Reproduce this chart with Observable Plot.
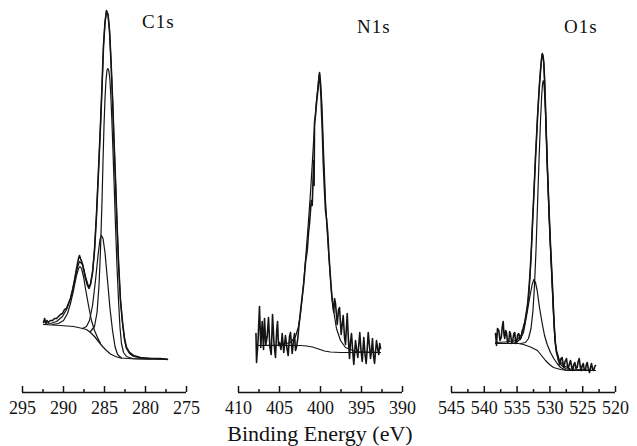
<!DOCTYPE html>
<html>
<head>
<meta charset="utf-8">
<script src="https://cdn.jsdelivr.net/npm/d3@7"></script>
<script src="https://cdn.jsdelivr.net/npm/@observablehq/plot@0.6"></script>
<style>
  html, body { margin: 0; padding: 0; background: #fff; }
  #wrap { position: relative; width: 637px; height: 446px; background: #fff; overflow: hidden;
          font-family: "Liberation Serif", "Times New Roman", serif; color: #111; }
  .panel { position: absolute; top: 0; }
  .lbl { position: absolute; line-height: 1; font-size: 19px; letter-spacing: 1px; white-space: nowrap; }
  #xlabel { position: absolute; top: 423px; left: 200px; width: 240px; text-align: center;
            font-size: 22px; line-height: 1; white-space: nowrap; }
</style>
</head>
<body>
<div id="wrap">
  <div id="p1" class="panel" style="left:0px"></div>
  <div id="p2" class="panel" style="left:212px"></div>
  <div id="p3" class="panel" style="left:424px"></div>
  <div class="lbl" style="left:142px;top:12px">C1s</div>
  <div class="lbl" style="left:357px;top:17px">N1s</div>
  <div class="lbl" style="left:564px;top:17px">O1s</div>
  <div id="xlabel">Binding Energy (eV)</div>
</div>
<script>
// ---------- axis tick values ----------
const c1sMajor = [295, 290, 285, 280, 275];
const c1sMinor = [292.5, 287.5, 282.5, 277.5];
const n1sMajor = [410, 405, 400, 395, 390];
const n1sMinor = [407.5, 402.5, 397.5, 392.5];
const o1sMajor = [545, 540, 535, 530, 525, 520];
const o1sMinor = [542.5, 537.5, 532.5, 527.5, 522.5];

// ---------- C1s: [binding energy (eV), intensity (a.u.)] ----------
const c1sRaw = [[292.44,70],[292.30,74],[292.16,69],[292.02,72],[291.85,70],[291.60,72],[291.34,72],[291.10,74],[290.85,74],[290.61,76],[290.37,78],[290.12,79],[289.88,83],[289.63,84],[289.39,89],[289.15,94],[288.90,102],[288.66,112],[288.41,124],[288.17,134],[288.05,137],[287.93,134],[287.74,130],[287.56,124],[287.32,114],[287.07,107],[286.89,104],[286.71,108],[286.46,120],[286.22,142],[285.98,177],[285.73,222],[285.49,267],[285.30,307],[285.12,347],[284.94,370],[284.76,382],[284.57,378],[284.39,362],[284.21,332],[284.02,294],[283.84,252],[283.66,212],[283.48,170],[283.29,130],[283.05,92],[282.80,70],[282.56,54],[282.32,45],[281.95,40],[281.46,37],[280.61,35],[279.39,34],[278.17,34],[277.32,33]];
const c1sFit = [[292.44,68],[291.59,69],[290.85,71],[290.12,76],[289.63,83],[289.15,94],[288.78,107],[288.41,122],[288.05,131],[287.68,128],[287.32,116],[286.95,106],[286.71,108],[286.46,120],[286.22,142],[285.98,177],[285.73,222],[285.49,267],[285.30,307],[285.12,347],[284.94,370],[284.76,381],[284.57,378],[284.39,362],[284.21,332],[284.02,294],[283.84,252],[283.66,212],[283.48,170],[283.29,130],[283.05,92],[282.80,69],[282.56,53],[282.32,44],[281.95,39],[281.46,36],[280.61,34.5],[277.32,33.5]];
const c1sBg = [[292.44,68],[290.37,67],[288.78,66],[287.93,64.5],[287.20,63],[286.71,60],[286.22,56],[285.73,51],[285.24,46],[284.76,42],[284.27,38.5],[283.66,36],[283.05,34.5],[281.22,33.5],[277.32,33]];
const c1sPeakCC = [[286.71,61],[286.22,66],[285.91,80],[285.67,107],[285.49,142],[285.30,192],[285.18,232],[285.06,267],[284.94,294],[284.82,312],[284.70,322],[284.60,324],[284.48,322],[284.35,314],[284.23,297],[284.11,274],[283.99,247],[283.84,212],[283.66,167],[283.48,127],[283.29,92],[283.11,65],[282.93,49],[282.68,40],[282.32,36],[281.59,34],[279.39,33.5]];
const c1sPeakCN = [[287.68,64],[287.20,66],[286.83,72],[286.46,87],[286.10,112],[285.79,137],[285.55,153],[285.37,157],[285.18,154],[284.94,140],[284.63,112],[284.33,84],[284.02,62],[283.72,46],[283.41,38],[282.93,34.5]];
const c1sPeakCO = [[291.34,68],[290.61,69],[290.00,72],[289.51,79],[289.15,89],[288.78,102],[288.41,117],[288.17,124],[287.99,126],[287.80,124],[287.56,116],[287.32,104],[286.95,87],[286.59,72],[286.22,62],[285.85,55],[285.49,49]];

// ---------- N1s ----------
const n1sRaw = [[407.87,59],[407.80,30],[407.62,51],[407.44,86],[407.28,45],[407.11,71],[406.95,43],[406.83,74],[406.67,48],[406.50,56],[406.34,75],[406.18,46],[406.01,38],[405.85,78],[405.67,49],[405.49,35],[405.34,62],[405.24,71],[405.12,47],[405.00,50],[404.82,43],[404.67,59],[404.48,40],[404.27,57],[404.11,45],[403.94,37],[403.78,56],[403.66,60],[403.45,39],[403.29,52],[403.17,59],[403.05,42],[402.93,45],[402.77,54],[402.65,65],[402.44,81],[402.26,94],[402.04,109],[401.83,130],[401.62,142],[401.46,160],[401.34,169],[401.13,192],[401.01,187],[400.91,212],[400.82,232],[400.78,207],[400.73,270],[400.61,277],[400.49,289],[400.37,298],[400.28,305],[400.18,316],[400.12,320],[400.06,314],[400.00,305],[399.94,296],[399.88,282],[399.76,257],[399.67,232],[399.54,207],[399.39,182],[399.27,174],[399.11,159],[398.99,140],[398.87,125],[398.72,107],[398.57,92],[398.38,80],[398.29,94],[398.17,89],[397.96,68],[397.80,83],[397.68,85],[397.48,58],[397.38,66],[397.23,77],[397.07,55],[396.95,48],[396.74,79],[396.59,52],[396.46,34],[396.34,51],[396.22,59],[396.06,40],[395.94,28],[395.73,52],[395.59,43],[395.45,35],[395.33,48],[395.21,60],[395.06,42],[394.91,31],[394.82,43],[394.72,55],[394.57,38],[394.43,29],[394.30,44],[394.18,60],[394.02,46],[393.90,34],[393.78,42],[393.66,54],[393.54,37],[393.41,29],[393.29,41],[393.17,52],[393.02,43],[392.89,38],[392.78,49],[392.68,44]];
const n1sFit = [[407.80,47],[404.88,47.5],[403.66,50],[403.05,56],[402.68,66],[402.44,79],[402.20,97],[401.95,120],[401.71,145],[401.46,172],[401.22,200],[400.98,232],[400.73,267],[400.49,292],[400.24,312],[400.12,319],[400.00,312],[399.82,287],[399.63,242],[399.39,192],[399.15,157],[398.90,127],[398.66,100],[398.41,82],[398.05,64],[397.56,52],[396.95,45],[395.73,41],[392.68,40]];
const n1sBg = [[407.80,47],[402.44,47],[401.71,46.5],[400.98,45.5],[400.24,43.5],[399.51,41.5],[398.78,40.5],[397.56,40],[392.68,40]];

// ---------- O1s ----------
const o1sRaw = [[538.29,59],[538.14,47],[537.99,64],[537.79,62],[537.61,52],[537.42,55],[537.27,65],[537.12,71],[537.00,58],[536.88,54],[536.74,62],[536.62,60],[536.46,50],[536.27,51],[536.13,61],[536.01,59],[535.82,49],[535.66,52],[535.50,59],[535.35,60],[535.21,49],[535.09,50],[534.91,58],[534.74,59],[534.56,53],[534.38,55],[534.22,62],[534.07,64],[533.95,68],[533.83,70],[533.64,78],[533.46,85],[533.34,92],[533.22,102],[533.08,114],[532.96,127],[532.80,147],[532.65,170],[532.50,190],[532.35,212],[532.20,234],[532.04,255],[531.89,275],[531.74,292],[531.59,308],[531.43,322],[531.28,333],[531.17,339],[531.05,337],[530.93,330],[530.79,310],[530.67,285],[530.52,252],[530.37,222],[530.21,195],[530.06,170],[529.91,147],[529.76,127],[529.60,105],[529.45,82],[529.30,62],[529.15,48],[528.99,40],[528.89,39],[528.69,32],[528.49,28],[528.31,34],[528.13,35],[528.00,29],[527.88,25],[527.70,31],[527.47,34],[527.32,26],[527.21,24],[527.01,29],[526.86,32],[526.66,25],[526.51,22],[526.36,28],[526.20,30],[526.02,24],[525.84,25],[525.69,31],[525.53,34],[525.38,26],[525.23,22],[525.08,27],[524.92,29],[524.76,23],[524.57,22],[524.45,28],[524.31,30],[524.15,24],[523.96,20],[523.81,25],[523.66,29],[523.48,23],[523.31,22],[523.17,26],[523.05,27]];
const o1sFit = [[538.29,50],[536.77,50.5],[535.70,51],[534.94,53],[534.33,58],[533.87,68],[533.46,84],[533.19,100],[532.96,124],[532.80,146],[532.65,169],[532.50,191],[532.35,212],[532.20,234],[532.04,255],[531.89,275],[531.74,292],[531.59,308],[531.43,322],[531.28,333],[531.17,338],[531.05,336],[530.93,329],[530.79,309],[530.67,284],[530.52,252],[530.37,222],[530.21,195],[530.06,170],[529.91,147],[529.76,126],[529.60,104],[529.45,82],[529.30,63],[529.15,49],[528.92,40],[528.54,32],[527.93,27],[526.86,23.5],[523.05,22]];
const o1sBg = [[538.29,49],[534.79,49],[534.02,48],[532.96,45.5],[531.89,42],[531.28,37],[530.67,32],[530.06,28],[529.45,25],[528.38,23],[527.32,22],[523.05,22]];
const o1sPeakA = [[534.48,49],[533.72,50],[533.26,54],[532.88,64],[532.58,82],[532.35,107],[532.12,142],[531.89,187],[531.66,232],[531.43,272],[531.25,297],[531.13,308],[531.02,312],[530.90,308],[530.75,292],[530.59,267],[530.44,237],[530.29,207],[530.14,179],[529.98,154],[529.83,132],[529.68,110],[529.53,88],[529.38,68],[529.22,52],[528.99,40],[528.69,32],[528.23,27],[527.47,23.5],[526.10,22]];
const o1sPeakB = [[536.01,49],[535.09,50],[534.48,54],[534.02,60],[533.46,80],[533.11,94],[532.70,108],[532.45,113],[532.20,110],[531.94,102],[531.59,85],[531.17,69],[530.82,57],[530.41,48],[529.91,40],[529.41,34],[528.89,29],[528.38,25],[527.62,22.5]];

const INK = "#141414";

function panel(target, o) {
  const comps = o.comps.map(c => Plot.line(c, {x: d => d[0], y: d => d[1], stroke: INK, strokeWidth: 1.2}));
  const chart = Plot.plot({
    width: o.W, height: 420,
    marginLeft: o.L, marginRight: o.R, marginTop: 0, marginBottom: 28,
    x: {domain: o.domain},
    y: {domain: [0, 392], axis: null},
    style: {fontFamily: "'Liberation Serif', 'Times New Roman', serif", fontSize: "18px", color: INK, background: "transparent", overflow: "visible"},
    marks: [
      Plot.ruleY([0], {stroke: INK, strokeWidth: 1.5}),
      Plot.axisX({ticks: o.major, tickSize: 6, dy: -6, text: null, strokeWidth: 1.5, label: null}),
      Plot.axisX({ticks: o.minor, tickSize: 3, dy: -3, text: null, strokeWidth: 1.5, label: null}),
      Plot.axisX({ticks: o.major, tickSize: 0, tickPadding: 9, fontSize: 18, tickFormat: d => String(d), label: null}),
      Plot.line(o.bg, {x: d => d[0], y: d => d[1], stroke: INK, strokeWidth: 1.2}),
      ...comps,
      Plot.line(o.fit, {x: d => d[0], y: d => d[1], stroke: INK, strokeWidth: 1.2}),
      Plot.line(o.raw, {x: d => d[0], y: d => d[1], stroke: INK, strokeWidth: 1.6})
    ]
  });
  document.getElementById(target).appendChild(chart);
}

panel("p1", {W: 212, L: 22, R: 26, domain: [295, 275], major: c1sMajor, minor: c1sMinor,
  raw: c1sRaw, fit: c1sFit, bg: c1sBg, comps: [c1sPeakCC, c1sPeakCN, c1sPeakCO]});
panel("p2", {W: 212, L: 26, R: 22, domain: [410, 390], major: n1sMajor, minor: n1sMinor,
  raw: n1sRaw, fit: n1sFit, bg: n1sBg, comps: []});
panel("p3", {W: 213, L: 27, R: 22, domain: [545, 520], major: o1sMajor, minor: o1sMinor,
  raw: o1sRaw, fit: o1sFit, bg: o1sBg, comps: [o1sPeakA, o1sPeakB]});
</script>
</body>
</html>
